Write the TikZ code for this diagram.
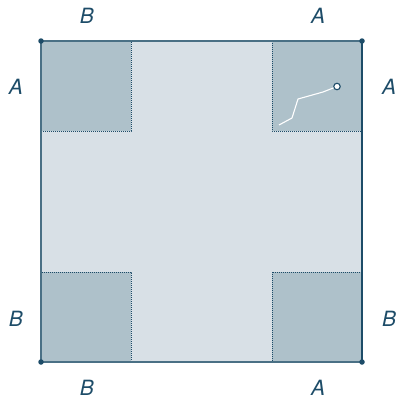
\documentclass[tikz,border=0pt]{standalone}
\usepackage{fontspec}
\setmainfont{TeX Gyre Heros}
\begin{document}
\begin{tikzpicture}[x=1pt,y=-1pt,
  lbl/.style={text=darkc, font=\fontsize{21}{21}\selectfont\itshape, inner sep=0pt},
  corner/.style={fill=cornc, draw=darkc, dash pattern=on 0.8pt off 1.2pt, line width=0.9pt},
  dotc/.style={circle, fill=darkc, inner sep=0pt, minimum size=5.5pt}]
\definecolor{darkc}{HTML}{1D4C68}
\definecolor{midc}{HTML}{4A7085}
\definecolor{bgc}{HTML}{D8E0E6}
\definecolor{cornc}{HTML}{AEC1CA}
\useasboundingbox (0,0) rectangle (399,399);
\fill[white] (0,0) rectangle (399,399);
% main square
\fill[bgc] (41,41) rectangle (362,362);
% corner squares
\path[corner] (41,41) rectangle (131,131);
\path[corner] (272,41) rectangle (362,131);
\path[corner] (41,272) rectangle (131,362);
\path[corner] (272,272) rectangle (362,362);
% outer edges
\coordinate (tl) at (41,41);
\coordinate (tr) at (362,41);
\coordinate (bl) at (41,362);
\coordinate (br) at (362,362);
\draw[midc, line width=1.3pt] (bl) -- (tl) -- (tr);
\draw[midc, line width=1.3pt] (bl) -- (br);
\draw[darkc, line width=1.3pt] (tr) -- (br);
\node[dotc] at (tl) {};
\node[dotc] at (tr) {};
\node[dotc] at (bl) {};
\node[dotc] at (br) {};
% path in top-right corner
\coordinate (p0) at (279,125);
\coordinate (p1) at (292,118);
\coordinate (p2) at (298,99);
\coordinate (p3) at (323,92);
\node[circle, draw=darkc, fill=white, line width=1.1pt, inner sep=0pt, minimum size=6.5pt] (pe) at (337,86.5) {};
\draw[white, line width=1.1pt, line join=round] (p0) -- (p1) -- (p2) -- (p3) -- (pe);
% labels
\node[lbl] (lb1) at (87,16) {B};
\node[lbl] (la1) at (318,16) {A};
\node[lbl] (la2) at (16,87) {A};
\node[lbl] (la3) at (389,87) {A};
\node[lbl] (lb2) at (16,319) {B};
\node[lbl] (lb3) at (389,319) {B};
\node[lbl] (lb4) at (87,388) {B};
\node[lbl] (la4) at (318,388) {A};
\end{tikzpicture}
\end{document}
